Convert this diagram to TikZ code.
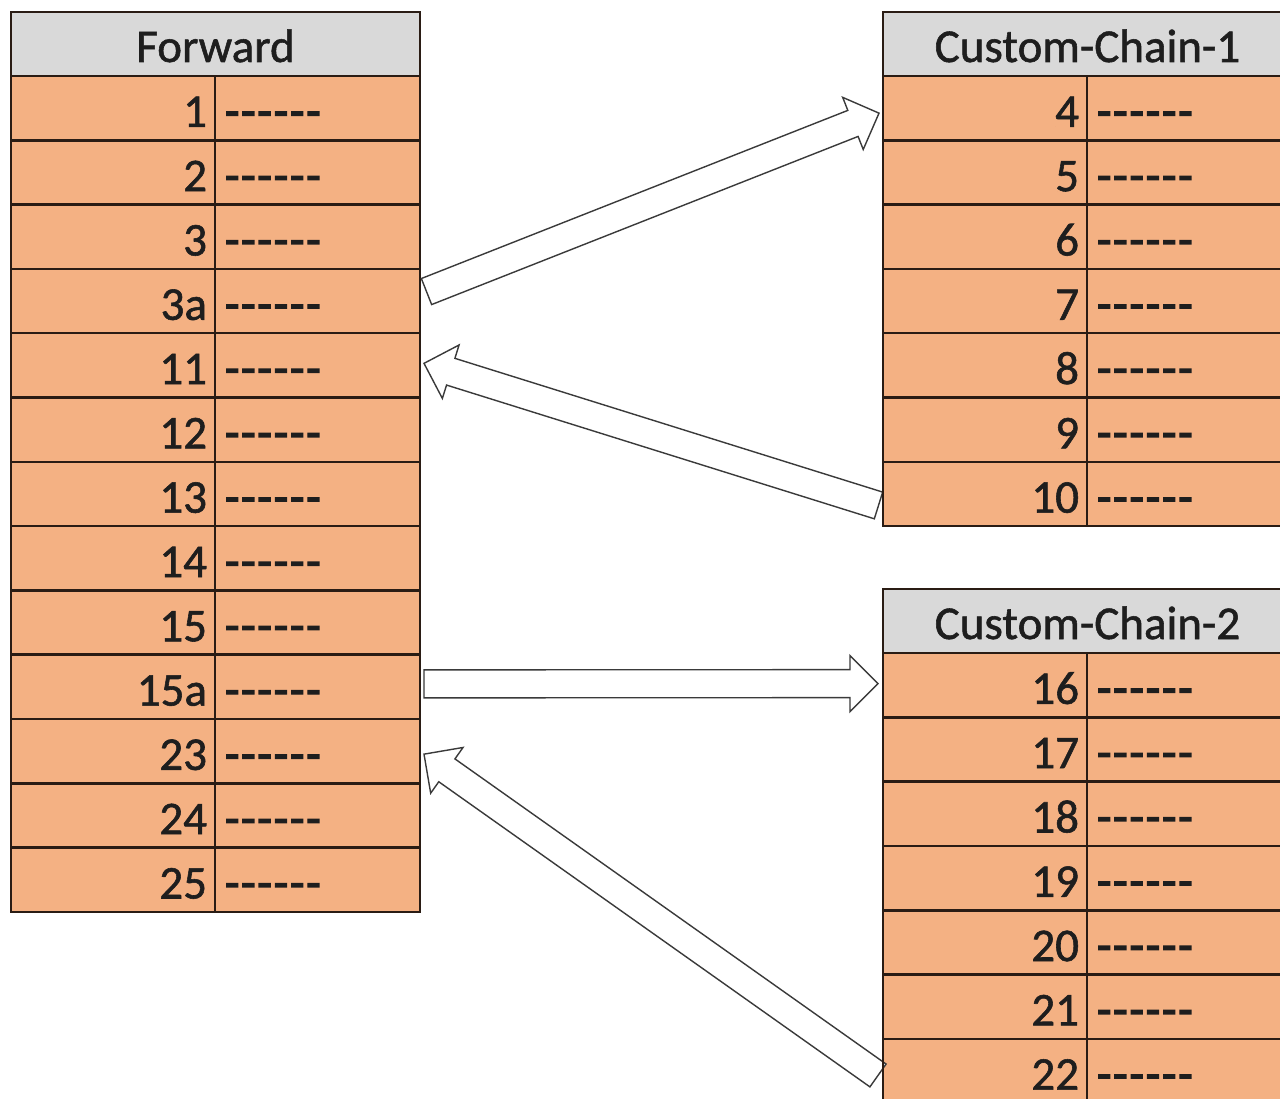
\documentclass[tikz,border=0pt]{standalone}
\usepackage{fontspec}
\setmainfont{Carlito}[Ligatures=TeXOff, RawFeature={embolden=1.2}]
\newfontfamily\dashfont{Carlito}[Ligatures=TeXOff, RawFeature={embolden=3}, LetterSpace=4]
\usetikzlibrary{calc}
\definecolor{rowfill}{HTML}{F4B183}
\definecolor{headfill}{HTML}{D9D9D9}
\definecolor{gridline}{HTML}{2A1C14}
\definecolor{txt}{HTML}{1E1E1E}
\definecolor{arrowline}{HTML}{3A3A3A}
\tikzset{
  cellbase/.style={draw=gridline, line width=2.6pt, inner ysep=0pt, outer sep=0pt,
    minimum height=64.3pt, anchor=north west, text=txt,
    text height=37.5pt, text depth=0pt,
    font=\fontsize{47}{56}\selectfont},
  headcell/.style={cellbase, fill=headfill, minimum height=64pt, minimum width=409pt,
    inner xsep=0pt, text height=36pt},
  numcell/.style={cellbase, fill=rowfill, inner xsep=8pt, text width=188pt, align=right},
  dashcell/.style={cellbase, fill=rowfill, inner xsep=10pt, text width=185pt, align=left,
    font=\fontsize{47}{56}\dashfont},
  arrowbody/.style={draw=arrowline, fill=white, line width=1.4pt, line join=miter}
}
\newcommand{\blockarr}[2]{%
  \coordinate (arrh) at ($(#2)!28pt!(#1)$);
  \draw[arrowbody] ($(#1)!14pt!90:(#2)$) -- ($(arrh)!14pt!90:(#2)$) -- ($(arrh)!28pt!90:(#2)$)
    -- (#2) -- ($(arrh)!28pt!-90:(#2)$) -- ($(arrh)!14pt!-90:(#2)$) -- ($(#1)!14pt!-90:(#2)$) -- cycle;}
\begin{document}
\begin{tikzpicture}[x=1pt,y=-1pt]
\path[use as bounding box] (0,0) rectangle (1280,1099);
\clip (0,0) rectangle (1280,1099);
\fill[white] (0,0) rectangle (1280,1099);

% Forward table
\node[headcell] (fh) at (11,12) {Forward};
\foreach \lab [count=\i from 0] in {1,2,3,3a,11,12,13,14,15,15a,23,24,25} {
  \node[numcell] (fn\i) at (11,{76+\i*64.3}) {\lab};
  \node[dashcell] (fd\i) at (215,{76+\i*64.3}) {------};
}

% Custom-Chain-1 table
\node[headcell] (ch) at (883,12) {Custom-Chain-1};
\foreach \lab [count=\i from 0] in {4,5,6,7,8,9,10} {
  \node[numcell] (cn\i) at (883,{76+\i*64.3}) {\lab};
  \node[dashcell] (cd\i) at (1087,{76+\i*64.3}) {------};
}

% Custom-Chain-2 table
\node[headcell] (dh) at (883,589) {Custom-Chain-2};
\foreach \lab [count=\i from 0] in {16,17,18,19,20,21,22} {
  \node[numcell] (dn\i) at (883,{653+\i*64.3}) {\lab};
  \node[dashcell] (dd\i) at (1087,{653+\i*64.3}) {------};
}

% arrow end points
\coordinate (a1s) at ($(fd3.east)+(6.5,-9.5)$);
\coordinate (a1e) at ($(cn0.west)+(-4,5)$);
\coordinate (a2s) at ($(cn6.west)+(-4.5,11.5)$);
\coordinate (a2e) at ($(fd4.east)+(4,-2)$);
\coordinate (a3s) at ($(fd9.east)+(4,-3)$);
\coordinate (a3e) at ($(dn0.west)+(-5,-1.5)$);
\coordinate (a4s) at ($(dn6.west)+(-5,4.5)$);
\coordinate (a4e) at ($(fd10.east)+(4,3)$);

\blockarr{a1s}{a1e}
\blockarr{a2s}{a2e}
\blockarr{a3s}{a3e}
\blockarr{a4s}{a4e}

% redraw table borders over arrow tails
\draw[gridline, line width=2.6pt] (dn6.north west) -- (dn6.south west);
\draw[gridline, line width=2.6pt] (cn6.north west) -- (cn6.south west);
\end{tikzpicture}
\end{document}
